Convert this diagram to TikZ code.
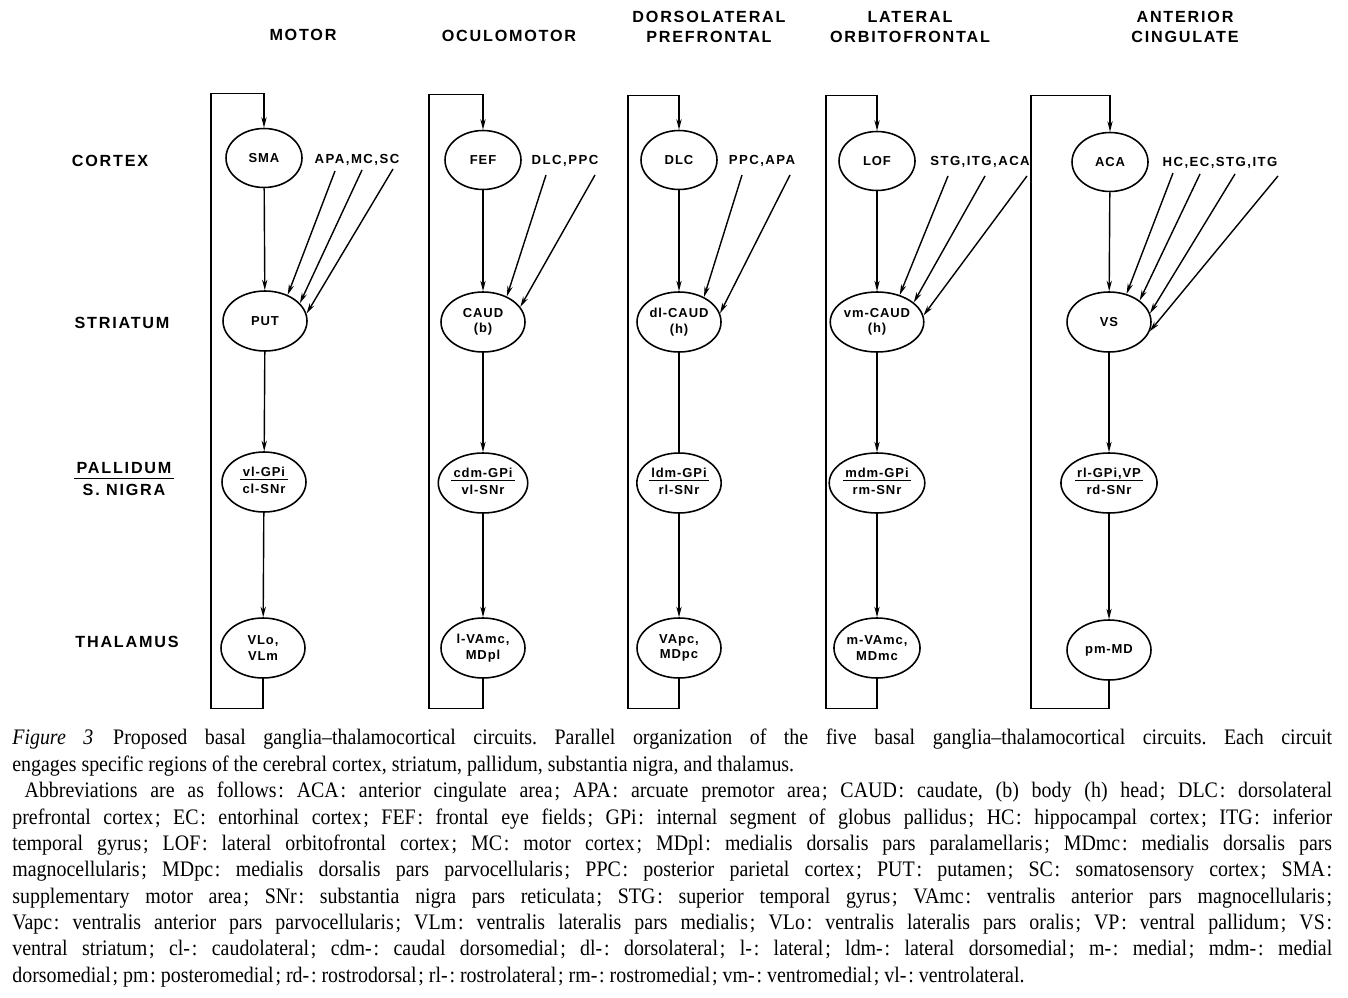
\documentclass[tikz,border=0pt]{standalone}
\usepackage{fontspec}
\setmainfont{Liberation Serif}[FakeStretch=0.9]
\newfontfamily\lblfont[LetterSpace=11]{Liberation Sans}
\newfontfamily\areafont[LetterSpace=7]{Liberation Sans}
\usetikzlibrary{shapes.geometric,arrows.meta}
\newcommand\overunder[2]{{\renewcommand\arraystretch{0.95}\begin{tabular}{@{\,}c@{\,}}#1\\[-1pt]\hline\rule{0pt}{1.05em}#2\end{tabular}}}
\newcommand\tsp{\kern1pt}

\begin{document}
\begin{tikzpicture}[x=0.02cm, y=-0.02cm,
   area/.style={draw, ellipse, line width=0.9pt, inner sep=0pt, align=center,
     minimum width=1.68cm, minimum height=1.2cm,
     font=\areafont\bfseries\fontsize{7.4}{8.8}\selectfont},
   cortex/.style={area, minimum width=1.52cm, minimum height=1.18cm},
   head/.style={align=center, inner sep=0pt, font=\lblfont\bfseries\fontsize{9.2}{11}\selectfont},
   input/.style={inner sep=0pt, font=\lblfont\bfseries\fontsize{7.5}{9}\selectfont},
   feed/.style={-{Stealth[length=6pt,width=3pt]}, line width=0.8pt},
   caption/.style={anchor=north west, inner sep=0pt, font=\normalfont\fontsize{12.6}{15}\selectfont}]

\useasboundingbox (0,0) rectangle (1348,997);

\node[head] (hmotor) at (303,35) {MOTOR};
\node[head] (hoculo) at (509,36) {OCULOMOTOR};
\node[head] (hdlpf) at (709,27) {DORSOLATERAL\\PREFRONTAL};
\node[head] (hlof) at (910,27) {LATERAL\\ORBITOFRONTAL};
\node[head] (hacc) at (1185,27) {ANTERIOR\\CINGULATE};

\node[head] (rcortex) at (110,161) {CORTEX};
\node[head] (rstriatum) at (122,323) {STRIATUM};
\node[head] (rpallidum) at (124,481) {\overunder{PALLIDUM}{S. NIGRA}};
\node[head] (rthalamus) at (127,642) {THALAMUS};

\node[cortex] (sma) at (264,158) {SMA};
\node[area] (put) at (265,321) {PUT};
\node[area] (vlgpi) at (264,482) {\overunder{vl-GPi}{cl-SNr}};
\node[area] (vlo) at (263,648) {VLo,\\VLm};

\node[cortex] (fef) at (483,160) {FEF};
\node[area] (caud) at (483,322) {CAUD\\(b)};
\node[area] (cdmgpi) at (483,483) {\overunder{cdm-GPi}{vl-SNr}};
\node[area] (lvamc) at (483,648) {l-VAmc,\\MDpl};

\node[cortex] (dlc) at (679,160) {DLC};
\node[area] (dlcaud) at (679,322) {dl-CAUD\\(h)};
\node[area] (ldmgpi) at (679,483) {\overunder{ldm-GPi}{rl-SNr}};
\node[area] (vapc) at (679,648) {VApc,\\MDpc};

\node[cortex] (lof) at (877,161) {LOF};
\node[area] (vmcaud) at (877,322) {vm-CAUD\\(h)};
\node[area] (mdmgpi) at (877,483) {\overunder{mdm-GPi}{rm-SNr}};
\node[area] (mvamc) at (877,648) {m-VAmc,\\MDmc};

\node[cortex] (aca) at (1110,162) {ACA};
\node[area] (vs) at (1109,322) {VS};
\node[area] (rlgpi) at (1109,483) {\overunder{rl-GPi,VP}{rd-SNr}};
\node[area] (pmmd) at (1109,650) {pm-MD};

\node[input] (in1) at (357,160) {APA,MC,SC};
\node[input] (in2) at (565,161) {DLC,PPC};
\node[input] (in3) at (762,161) {PPC,APA};
\node[input] (in4) at (980,162) {STG,ITG,ACA};
\node[input] (in5) at (1220,163) {HC,EC,STG,ITG};

\draw[feed] (sma) -- (put);
\draw[feed] (put) -- (vlgpi);
\draw[feed] (vlgpi) -- (vlo);
\draw[feed] (vlo.south) -- ++(0,30) -| ++(-52,-615) -| (sma.north);
\draw[feed] ([shift={(-22,5)}]in1.south) -- (put.49);
\draw[feed] ([shift={(5,4)}]in1.south) -- (put.27);
\draw[feed] ([shift={(36,3)}]in1.south) -- (put.10);

\draw[feed] (fef) -- (caud);
\draw[feed] (caud) -- (cdmgpi);
\draw[feed] (cdmgpi) -- (lvamc);
\draw[feed] (lvamc.south) -- ++(0,30) -| ++(-54,-614) -| (fef.north);
\draw[feed] ([shift={(-19,8)}]in2.south) -- (caud.47);
\draw[feed] ([shift={(30,8)}]in2.south) -- (caud.22);

\draw[feed] (dlc) -- (dlcaud);
\draw[line width=0.8pt] (dlcaud) -- (ldmgpi);
\draw[feed] (ldmgpi) -- (vapc);
\draw[feed] (vapc.south) -- ++(0,30) -| ++(-51,-613) -| (dlc.north);
\draw[feed] ([shift={(-20,8)}]in3.south) -- (dlcaud.45);
\draw[feed] ([shift={(28,8)}]in3.south) -- (dlcaud.12);

\draw[feed] (lof) -- (vmcaud);
\draw[feed] (vmcaud) -- (mdmgpi);
\draw[feed] (mdmgpi) -- (mvamc);
\draw[feed] (mvamc.south) -- ++(0,30) -| ++(-51,-613) -| (lof.north);
\draw[feed] ([shift={(-32,8)}]in4.south) -- (vmcaud.50);
\draw[feed] ([shift={(5,8)}]in4.south) -- (vmcaud.28);
\draw[feed] ([shift={(47,8)}]in4.south) -- (vmcaud.8);

\draw[feed] (aca) -- (vs);
\draw[feed] (vs) -- (rlgpi);
\draw[feed] (rlgpi) -- (pmmd);
\draw[feed] (pmmd.south) -- ++(0,28) -| ++(-78,-613) -| (aca.north);
\draw[feed] ([shift={(-47,4)}]in5.south) -- (vs.58);
\draw[feed] ([shift={(-20,5)}]in5.south) -- (vs.35);
\draw[feed] ([shift={(15,5)}]in5.south) -- (vs.12);
\draw[feed] ([shift={(58,7)}]in5.south) -- (vs.-13);

\node[caption] (cap) at (12,729) {\begin{minipage}{26.4cm}\frenchspacing
\textit{Figure 3}\hspace{0.9em}Proposed basal ganglia--thalamocortical circuits. Parallel organization of the five basal ganglia--thalamocortical circuits. Each circuit\linebreak
engages specific regions of the cerebral cortex, striatum, pallidum, substantia nigra, and thalamus.\par
\hspace*{7pt}Abbreviations are as follows\tsp: ACA\tsp: anterior cingulate area\tsp; APA\tsp: arcuate premotor area\tsp; CAUD\tsp: caudate, (b) body (h) head\tsp; DLC\tsp: dorsolateral\linebreak
prefrontal cortex\tsp; EC\tsp: entorhinal cortex\tsp; FEF\tsp: frontal eye fields\tsp; GPi\tsp: internal segment of globus pallidus\tsp; HC\tsp: hippocampal cortex\tsp; ITG\tsp: inferior\linebreak
temporal gyrus\tsp; LOF\tsp: lateral orbitofrontal cortex\tsp; MC\tsp: motor cortex\tsp; MDpl\tsp: medialis dorsalis pars paralamellaris\tsp; MDmc\tsp: medialis dorsalis pars\linebreak
magnocellularis\tsp; MDpc\tsp: medialis dorsalis pars parvocellularis\tsp; PPC\tsp: posterior parietal cortex\tsp; PUT\tsp: putamen\tsp; SC\tsp: somatosensory cortex\tsp; SMA\tsp:\linebreak
supplementary motor area\tsp; SNr\tsp: substantia nigra pars reticulata\tsp; STG\tsp: superior temporal gyrus\tsp; VAmc\tsp: ventralis anterior pars magnocellularis\tsp;\linebreak
Vapc\tsp: ventralis anterior pars parvocellularis\tsp; VLm\tsp: ventralis lateralis pars medialis\tsp; VLo\tsp: ventralis lateralis pars oralis\tsp; VP\tsp: ventral pallidum\tsp; VS\tsp:\linebreak
ventral striatum\tsp; cl-\tsp: caudolateral\tsp; cdm-\tsp: caudal dorsomedial\tsp; dl-\tsp: dorsolateral\tsp; l-\tsp: lateral\tsp; ldm-\tsp: lateral dorsomedial\tsp; m-\tsp: medial\tsp; mdm-\tsp: medial\linebreak
dorsomedial\tsp; pm\tsp: posteromedial\tsp; rd-\tsp: rostrodorsal\tsp; rl-\tsp: rostrolateral\tsp; rm-\tsp: rostromedial\tsp; vm-\tsp: ventromedial\tsp; vl-\tsp: ventrolateral.
\end{minipage}};

\end{tikzpicture}
\end{document}
